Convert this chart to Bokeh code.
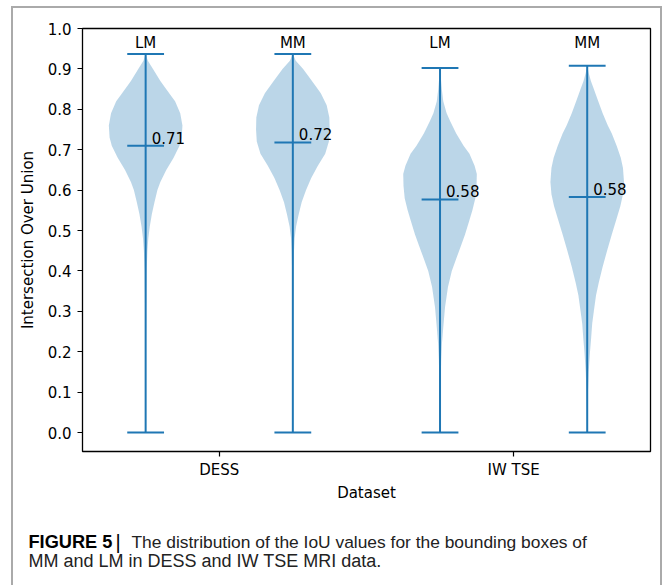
from bokeh.plotting import figure
from bokeh.layouts import column
from bokeh.models import Range1d, FixedTicker, PrintfTickFormatter
from bokeh.core.properties import value
from bokeh.embed import file_html
from bokeh.resources import INLINE

# ---------------- data ----------------
methods = ["LM", "MM", "LM", "MM"]
positions = [1, 2, 3, 4]
maxima = [0.937, 0.937, 0.902, 0.908]
minima = [0.0, 0.0, 0.0, 0.0]
medians = [0.710, 0.718, 0.577, 0.583]
median_labels = ["0.71", "0.72", "0.58", "0.58"]
dataset_ticks = [1.5, 3.5]
dataset_labels = ["DESS", "IW TSE"]
y_ticks = [0.0, 0.1, 0.2, 0.3, 0.4, 0.5, 0.6, 0.7, 0.8, 0.9, 1.0]

# violin half-widths (x units) read at IoU levels
dess_lm_y = [0.937, 0.92, 0.90, 0.87, 0.84, 0.82, 0.79, 0.76, 0.73, 0.71, 0.68, 0.65, 0.62, 0.60, 0.57, 0.54, 0.51, 0.48, 0.45, 0.40, 0.30, 0.20, 0.0]
dess_lm_w = [0.0, 0.015, 0.05, 0.10, 0.16, 0.20, 0.235, 0.25, 0.245, 0.23, 0.19, 0.14, 0.10, 0.08, 0.06, 0.042, 0.028, 0.018, 0.012, 0.007, 0.004, 0.002, 0.0]

dess_mm_y = [0.937, 0.92, 0.90, 0.87, 0.84, 0.81, 0.78, 0.75, 0.72, 0.69, 0.66, 0.63, 0.60, 0.57, 0.54, 0.51, 0.48, 0.45, 0.40, 0.30, 0.0]
dess_mm_w = [0.0, 0.02, 0.07, 0.13, 0.19, 0.23, 0.248, 0.25, 0.245, 0.22, 0.17, 0.125, 0.09, 0.06, 0.04, 0.022, 0.012, 0.008, 0.005, 0.003, 0.0]

iw_lm_y = [0.902, 0.88, 0.85, 0.82, 0.79, 0.77, 0.74, 0.71, 0.69, 0.66, 0.64, 0.61, 0.58, 0.55, 0.52, 0.49, 0.46, 0.43, 0.40, 0.36, 0.31, 0.26, 0.22, 0.18, 0.12, 0.05, 0.0]
iw_lm_w = [0.0, 0.005, 0.012, 0.022, 0.045, 0.07, 0.11, 0.16, 0.20, 0.235, 0.25, 0.248, 0.24, 0.22, 0.195, 0.17, 0.14, 0.11, 0.08, 0.054, 0.034, 0.022, 0.013, 0.008, 0.004, 0.002, 0.0]

iw_mm_y = [0.908, 0.89, 0.87, 0.85, 0.82, 0.79, 0.76, 0.74, 0.71, 0.68, 0.655, 0.62, 0.59, 0.56, 0.53, 0.49, 0.45, 0.41, 0.37, 0.34, 0.30, 0.27, 0.23, 0.20, 0.15, 0.10, 0.05, 0.0]
iw_mm_w = [0.0, 0.01, 0.025, 0.045, 0.075, 0.105, 0.14, 0.167, 0.20, 0.228, 0.243, 0.25, 0.243, 0.225, 0.20, 0.167, 0.135, 0.105, 0.078, 0.06, 0.045, 0.034, 0.026, 0.019, 0.01, 0.005, 0.002, 0.0]

profiles = [(dess_lm_y, dess_lm_w), (dess_mm_y, dess_mm_w), (iw_lm_y, iw_lm_w), (iw_mm_y, iw_mm_w)]

caption_bold = "FIGURE 5"
caption_line1 = "The distribution of the IoU values for the bounding boxes of"
caption_line2 = "MM and LM in DESS and IW TSE MRI data."

# ---------------- chart ----------------
BLUE = "#1f77b4"
FONT = value("DejaVu Sans")
GRAY = "#aaaaaa"

W, H1, H2 = 664, 515, 70
p = figure(width=W, height=H1, output_backend="svg", toolbar_location=None,
           x_range=Range1d(0.571, 4.43), y_range=Range1d(-0.047, 1.0),
           min_border_left=82, min_border_right=14, min_border_top=28, min_border_bottom=64)
p.frame_align = False
p.background_fill_color = "white"
p.border_fill_color = None
p.outline_line_color = "black"
p.outline_line_width = 1.3
p.xgrid.visible = False
p.ygrid.visible = False
p.styles = {
    "background-color": "white",
    "background-image": ", ".join([f"linear-gradient({GRAY},{GRAY})"] * 3),
    "background-size": f"2px {H1}px, 2px {H1}px, 651px 2px",
    "background-position": "11px 6px, 660px 6px, 11px 6px",
    "background-repeat": "no-repeat",
}

for pos, (ys, ws) in zip(positions, profiles):
    xs = [pos - w for w in ws] + [pos + w for w in reversed(ws)]
    yy = list(ys) + list(reversed(ys))
    p.patch(xs, yy, fill_color=BLUE, fill_alpha=0.3, line_color=None)

cap = 0.125
p.segment(x0=positions, y0=minima, x1=positions, y1=maxima, line_color=BLUE, line_width=2)
p.segment(x0=[x - cap for x in positions], y0=maxima, x1=[x + cap for x in positions], y1=maxima,
          line_color=BLUE, line_width=2)
p.segment(x0=[x - cap for x in positions], y0=minima, x1=[x + cap for x in positions], y1=minima,
          line_color=BLUE, line_width=2)
p.segment(x0=[x - cap for x in positions], y0=medians, x1=[x + cap for x in positions], y1=medians,
          line_color=BLUE, line_width=2)

p.text(x=positions, y=medians, text=median_labels, x_offset=6, y_offset=-8,
       text_font=FONT, text_font_size="15px", text_color="black",
       text_baseline="middle", text_align="left")
p.text(x=positions, y=[0.963] * len(positions), text=methods,
       text_font=FONT, text_font_size="15px", text_color="black",
       text_baseline="middle", text_align="center")

p.xaxis.ticker = FixedTicker(ticks=dataset_ticks)
p.xaxis.major_label_overrides = {t: l for t, l in zip(dataset_ticks, dataset_labels)}
p.yaxis.ticker = FixedTicker(ticks=y_ticks)
p.yaxis.formatter = PrintfTickFormatter(format="%.1f")
p.xaxis.axis_label = "Dataset"
p.yaxis.axis_label = "Intersection Over Union"
for ax in (p.xaxis[0], p.yaxis[0]):
    ax.axis_line_color = None
    ax.major_tick_in = 0
    ax.major_tick_out = 5
    ax.major_tick_line_color = "black"
    ax.major_tick_line_width = 1.2
    ax.minor_tick_line_color = None
    ax.major_label_text_font = "DejaVu Sans"
    ax.major_label_text_font_size = "15px"
    ax.major_label_text_color = "black"
    ax.axis_label_text_font = "DejaVu Sans"
    ax.axis_label_text_font_size = "15px"
    ax.axis_label_text_font_style = "normal"
    ax.axis_label_text_color = "black"
p.xaxis.major_label_standoff = 4
p.xaxis.axis_label_standoff = 2
p.yaxis.major_label_standoff = 6
p.yaxis.axis_label_standoff = 8

# ---------------- caption panel ----------------
c = figure(width=W, height=H2, output_backend="svg", toolbar_location=None,
           x_range=Range1d(0, W), y_range=Range1d(H2, 0),
           min_border=0, min_border_left=0, min_border_right=0,
           min_border_top=0, min_border_bottom=0,
           x_axis_type=None, y_axis_type=None)
c.frame_align = False
c.outline_line_color = None
c.background_fill_color = None
c.border_fill_color = None
c.xgrid.visible = False
c.ygrid.visible = False
c.styles = {
    "background-color": "white",
    "background-image": ", ".join([f"linear-gradient({GRAY},{GRAY})"] * 2),
    "background-size": f"2px {H2}px, 2px {H2}px",
    "background-position": "11px 0px, 660px 0px",
    "background-repeat": "no-repeat",
}
CAP_FONT = value("Liberation Sans")
c.text(x=[28], y=[26], text=[caption_bold], text_font=CAP_FONT, text_font_size="18.2px",
       text_font_style="bold", text_color="black", text_baseline="middle", text_align="left")
c.text(x=[115], y=[26], text=["|"], text_font=CAP_FONT, text_font_size="20px",
       text_color="black", text_baseline="middle", text_align="left")
c.text(x=[131], y=[26], text=[caption_line1], text_font=CAP_FONT, text_font_size="17.4px",
       text_color="#222222", text_baseline="middle", text_align="left")
c.text(x=[28], y=[45], text=[caption_line2], text_font=CAP_FONT, text_font_size="18px",
       text_color="#222222", text_baseline="middle", text_align="left")

layout = column(p, c, spacing=0)
open("out.html", "w").write(file_html(layout, INLINE))
